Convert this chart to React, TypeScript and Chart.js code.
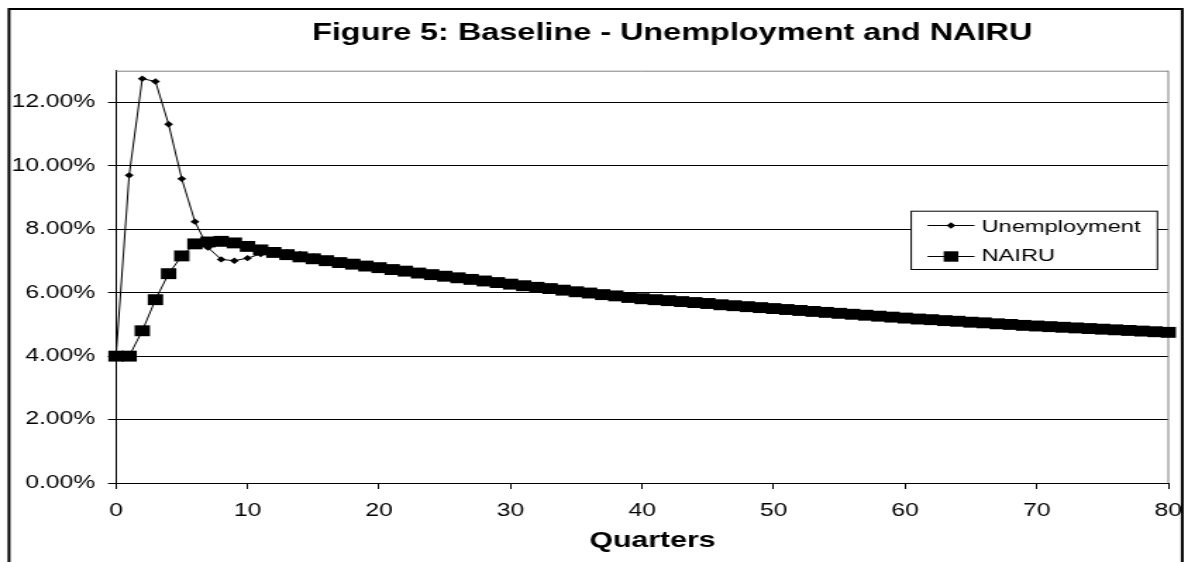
import React, { useEffect, useRef } from 'react';
import { Chart, registerables } from 'chart.js';

Chart.register(...registerables);

// Quarter index on the horizontal axis
const quarters = [
  0, 1, 2, 3, 4, 5, 6, 7, 8, 9,
  10, 11, 12, 13, 14, 15, 16, 17, 18, 19,
  20, 21, 22, 23, 24, 25, 26, 27, 28, 29,
  30, 31, 32, 33, 34, 35, 36, 37, 38, 39,
  40, 41, 42, 43, 44, 45, 46, 47, 48, 49,
  50, 51, 52, 53, 54, 55, 56, 57, 58, 59,
  60, 61, 62, 63, 64, 65, 66, 67, 68, 69,
  70, 71, 72, 73, 74, 75, 76, 77, 78, 79,
  80,
];

// Unemployment rate, percent
const unemployment = [
  4.0, 9.7, 12.75, 12.66, 11.31, 9.59, 8.24, 7.42, 7.05, 7.01,
  7.09, 7.22, 7.29, 7.28, 7.22, 7.14, 7.07, 7.0, 6.94, 6.88,
  6.82, 6.76, 6.7, 6.64, 6.59, 6.54, 6.49, 6.44, 6.39, 6.34,
  6.29, 6.24, 6.19, 6.14, 6.09, 6.04, 6.0, 5.95, 5.91, 5.86,
  5.82, 5.79, 5.76, 5.73, 5.7, 5.67, 5.63, 5.6, 5.57, 5.54,
  5.51, 5.48, 5.45, 5.42, 5.39, 5.36, 5.33, 5.3, 5.27, 5.24,
  5.21, 5.18, 5.16, 5.13, 5.11, 5.08, 5.06, 5.03, 5.01, 4.98,
  4.96, 4.94, 4.92, 4.9, 4.88, 4.86, 4.84, 4.82, 4.8, 4.78,
  4.76,
];

// NAIRU, percent
const nairu = [
  4.0, 4.0, 4.8, 5.78, 6.6, 7.16, 7.54, 7.6, 7.62, 7.57,
  7.46, 7.35, 7.27, 7.2, 7.13, 7.07, 7.01, 6.95, 6.9, 6.84,
  6.79, 6.73, 6.68, 6.62, 6.57, 6.52, 6.47, 6.42, 6.37, 6.32,
  6.27, 6.22, 6.17, 6.13, 6.08, 6.03, 5.99, 5.94, 5.9, 5.85,
  5.81, 5.78, 5.75, 5.72, 5.69, 5.66, 5.62, 5.59, 5.56, 5.53,
  5.5, 5.47, 5.44, 5.41, 5.38, 5.35, 5.32, 5.29, 5.26, 5.23,
  5.2, 5.17, 5.15, 5.12, 5.1, 5.07, 5.05, 5.02, 5.0, 4.97,
  4.95, 4.93, 4.91, 4.89, 4.87, 4.85, 4.83, 4.81, 4.79, 4.77,
  4.75,
];

const seriesNames = ['Unemployment', 'NAIRU'];
const chartTitle = 'Figure 5: Baseline - Unemployment and NAIRU';
const xAxisTitle = 'Quarters';

const yMin = 0;
const yMax = 13;
const yStep = 2;
const xMin = 0;
const xMax = 80;
const xStep = 10;

// The drawing is laid out on a narrower canvas and widened by CSS.
const PAGE_W = 1188;
const PAGE_H = 562;
const STRETCH = 1.41;
const CANVAS_W = Math.round(PAGE_W / STRETCH);

// plot area in canvas units
const PLOT_LEFT = 82.3;
const PLOT_RIGHT = 829;
const PLOT_TOP = 70.7;
const PLOT_BOTTOM = 483;

const FONT = '"Liberation Sans", Arial, Helvetica, sans-serif';

function drawDiamond(ctx: CanvasRenderingContext2D, x: number, y: number, r: number) {
  ctx.beginPath();
  ctx.moveTo(x - r, y);
  ctx.lineTo(x, y - r);
  ctx.lineTo(x + r, y);
  ctx.lineTo(x, y + r);
  ctx.closePath();
  ctx.fill();
}

const decorPlugin = {
  id: 'decor',
  beforeDraw(chart: any) {
    const { ctx } = chart;
    ctx.save();
    ctx.fillStyle = '#ffffff';
    ctx.fillRect(0, 0, chart.width, chart.height);
    ctx.restore();
  },
  beforeDatasetsDraw(chart: any) {
    const { ctx, chartArea } = chart;
    ctx.save();
    ctx.strokeStyle = '#808080';
    ctx.lineWidth = 1;
    ctx.beginPath();
    ctx.moveTo(chartArea.left, chartArea.top + 0.5);
    ctx.lineTo(chartArea.right, chartArea.top + 0.5);
    ctx.moveTo(chartArea.right, chartArea.top);
    ctx.lineTo(chartArea.right, chartArea.bottom);
    ctx.stroke();
    ctx.restore();
  },
  afterDraw(chart: any) {
    const { ctx } = chart;
    ctx.save();

    // outer frame (continues below the visible page)
    ctx.strokeStyle = '#000000';
    ctx.lineWidth = 2;
    ctx.beginPath();
    ctx.moveTo(6.4, PAGE_H + 5);
    ctx.lineTo(6.4, 9);
    ctx.lineTo(838.9, 9);
    ctx.lineTo(838.9, PAGE_H + 5);
    ctx.stroke();

    // titles
    ctx.fillStyle = '#000000';
    ctx.textAlign = 'center';
    ctx.textBaseline = 'alphabetic';
    ctx.font = `bold 23px ${FONT}`;
    ctx.fillText(chartTitle, 477, 40);
    ctx.font = `bold 21.5px ${FONT}`;
    ctx.fillText(xAxisTitle, 463, 547);

    // legend box
    const lx = 646.6;
    const ly = 210.7;
    const lw = 174.7;
    const lh = 58.3;
    ctx.fillStyle = '#ffffff';
    ctx.fillRect(lx, ly, lw, lh);
    ctx.strokeStyle = '#000000';
    ctx.lineWidth = 1;
    ctx.strokeRect(lx, ly + 0.5, lw, lh);

    const sx0 = 658.2;
    const sx1 = 691.5;
    const rows = [225.5, 256.5];
    ctx.lineWidth = 1;
    ctx.fillStyle = '#000000';
    rows.forEach((ry, i) => {
      ctx.beginPath();
      ctx.moveTo(sx0, ry);
      ctx.lineTo(sx1, ry);
      ctx.stroke();
      const cx = (sx0 + sx1) / 2;
      if (i === 0) {
        drawDiamond(ctx, cx, ry, 3.2);
      } else {
        ctx.fillRect(cx - 5.2, ry - 5.2, 10.4, 10.4);
      }
    });
    ctx.font = `16.8px ${FONT}`;
    ctx.textAlign = 'left';
    ctx.textBaseline = 'alphabetic';
    ctx.fillText(seriesNames[0], 696.5, 232);
    ctx.fillText(seriesNames[1], 696.5, 260.5);

    ctx.restore();
  },
};

export default function App() {
  const canvasRef = useRef<HTMLCanvasElement | null>(null);

  useEffect(() => {
    const canvas = canvasRef.current;
    if (!canvas) return;

    const chart = new Chart(canvas, {
      type: 'line',
      data: {
        labels: quarters,
        datasets: [
          {
            label: seriesNames[0],
            data: unemployment,
            borderColor: '#000000',
            backgroundColor: '#000000',
            borderWidth: 1,
            pointStyle: 'rectRot',
            pointRadius: 3.2,
            pointBorderWidth: 0,
            pointBackgroundColor: '#000000',
            tension: 0,
            clip: false,
            order: 2,
          },
          {
            label: seriesNames[1],
            data: nairu,
            borderColor: '#000000',
            backgroundColor: '#000000',
            borderWidth: 1,
            pointStyle: 'rect',
            pointRadius: 7.7,
            pointBorderWidth: 0,
            pointBackgroundColor: '#000000',
            tension: 0,
            clip: false,
            order: 1,
          },
        ],
      },
      options: {
        animation: false,
        responsive: false,
        devicePixelRatio: 1,
        layout: {
          padding: { top: PLOT_TOP, right: CANVAS_W - PLOT_RIGHT, bottom: 0, left: 0 },
        },
        plugins: {
          legend: { display: false },
          title: { display: false },
          tooltip: { enabled: false },
        },
        scales: {
          x: {
            type: 'linear',
            min: xMin,
            max: xMax,
            afterFit: (s: any) => {
              s.height = PAGE_H - PLOT_BOTTOM;
              s.paddingLeft = 0;
              s.paddingRight = 0;
            },
            ticks: {
              stepSize: xStep,
              color: '#000000',
              font: { family: FONT, size: 17.5 },
              padding: 12,
              maxRotation: 0,
            },
            grid: {
              display: true,
              drawOnChartArea: false,
              drawTicks: true,
              tickLength: 6,
              color: '#000000',
              lineWidth: 1,
            },
            border: { display: true, color: '#000000', width: 1 },
          },
          y: {
            type: 'linear',
            min: yMin,
            max: yMax,
            afterFit: (s: any) => {
              s.width = PLOT_LEFT;
              s.paddingTop = 0;
              s.paddingBottom = 0;
            },
            afterBuildTicks: (s: any) => {
              s.ticks = s.ticks.filter((t: any) => t.value <= 12.0001);
            },
            ticks: {
              stepSize: yStep,
              color: '#000000',
              font: { family: FONT, size: 17.5 },
              padding: 9,
              callback: (v: any) => `${Number(v).toFixed(2)}%`,
            },
            grid: {
              display: true,
              drawOnChartArea: true,
              drawTicks: true,
              tickLength: 5.7,
              color: '#000000',
              lineWidth: 1,
            },
            border: { display: true, color: '#000000', width: 1 },
          },
        },
      },
      plugins: [decorPlugin],
    });

    return () => {
      chart.destroy();
    };
  }, []);

  return (
    <div>
      <canvas
        ref={canvasRef}
        width={CANVAS_W}
        height={PAGE_H}
        style={{
          position: 'fixed',
          left: 0,
          top: 0,
          width: `${PAGE_W}px`,
          height: `${PAGE_H}px`,
        }}
      />
    </div>
  );
}
